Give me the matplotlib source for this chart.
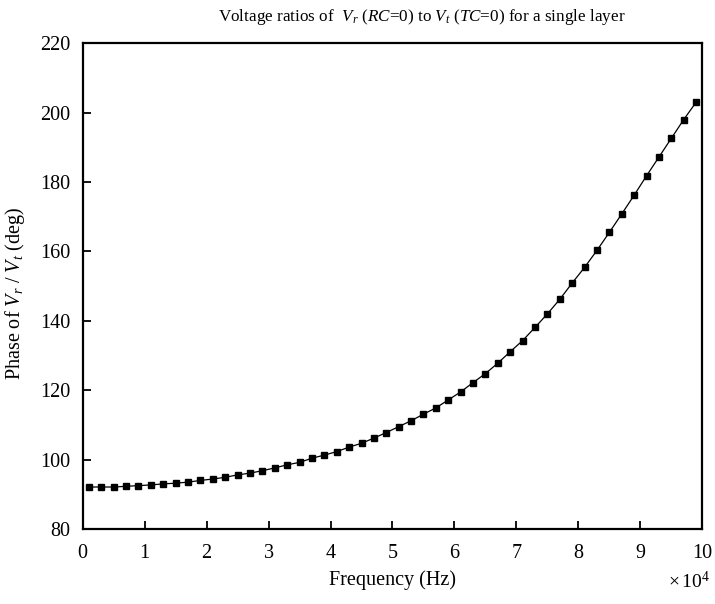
import matplotlib
matplotlib.use("Agg")
import matplotlib.pyplot as plt

plt.rcParams['font.family'] = ['Liberation Serif', 'DejaVu Serif']
plt.rcParams['mathtext.fontset'] = 'custom'
plt.rcParams['mathtext.rm'] = 'Liberation Serif'
plt.rcParams['mathtext.it'] = 'Liberation Serif:italic'

# frequency in units of 1e4 Hz
freq = [0.1, 0.3, 0.5, 0.7, 0.9, 1.1, 1.3, 1.5, 1.7, 1.9,
        2.1, 2.3, 2.5, 2.7, 2.9, 3.1, 3.3, 3.5, 3.7, 3.9,
        4.1, 4.3, 4.5, 4.7, 4.9, 5.1, 5.3, 5.5, 5.7, 5.9,
        6.1, 6.3, 6.5, 6.7, 6.9, 7.1, 7.3, 7.5, 7.7, 7.9,
        8.1, 8.3, 8.5, 8.7, 8.9, 9.1, 9.3, 9.5, 9.7, 9.9]
phase = [92.1, 92.1, 92.1, 92.3, 92.5, 92.7, 93.0, 93.2, 93.5, 94.0,
         94.4, 94.9, 95.6, 96.1, 96.8, 97.6, 98.5, 99.2, 100.4, 101.3,
         102.3, 103.6, 104.7, 106.2, 107.8, 109.5, 111.2, 113.1, 114.9, 117.2,
         119.5, 122.2, 124.8, 127.8, 131.1, 134.3, 138.1, 142.0, 146.2, 150.9,
         155.4, 160.3, 165.5, 170.8, 176.2, 181.8, 187.2, 192.6, 198.0, 203.0]
xticks = list(range(0, 11))
yticks = list(range(80, 221, 20))

fig = plt.figure(figsize=(7.15, 6.04), dpi=100)
ax = fig.add_axes([0.1157, 0.1242, 0.8665, 0.8041])

ax.plot(freq, phase, color='black', lw=0.9, marker='s', ms=3.8,
        markerfacecolor='black', markeredgecolor='black')

ax.set_xlim(0, 10)
ax.set_ylim(80, 220)
ax.set_xticks(xticks)
ax.set_yticks(yticks)
ax.tick_params(direction='in', length=6, width=1.3, labelsize=14.5,
               top=False, right=False)
ax.tick_params(axis='x', pad=11)
ax.tick_params(axis='y', pad=9)
for s in ax.spines.values():
    s.set_linewidth(1.6)

ax.set_xlabel('Frequency (Hz)', fontsize=14.5)
ax.xaxis.set_label_coords(0.5, -0.084)
ax.set_ylabel(r'Phase of $V_r$ / $V_t$ (deg)', fontsize=14.5)
ax.yaxis.set_label_coords(-0.09, 0.484)

fig.text(0.59, 0.972, r'Voltage ratios of  $V_r$ ($RC$=0) to $V_t$ ($TC$=0) for a single layer',
         ha='center', va='center', fontsize=12.3)
fig.text(0.963, 0.038, r'$\times\,\mathregular{10}^{\mathregular{4}}$', ha='center', va='center',
         fontsize=14)

fig.savefig('out.png', dpi=100)
